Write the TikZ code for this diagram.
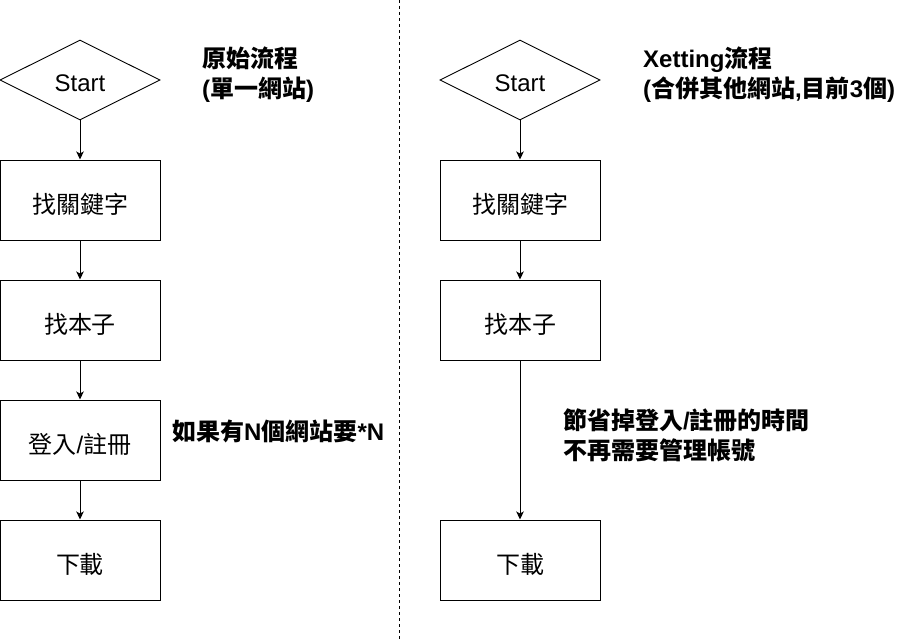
\documentclass[tikz,border=0pt]{standalone}
\usepackage{fontspec}
\setmainfont{Liberation Sans}
\newfontfamily\cjkfont{Noto Sans CJK TC}
\newcommand\cj[1]{{\cjkfont #1}}
\usetikzlibrary{shapes.geometric,arrows.meta}

\tikzset{
  every node/.style={font=\fontsize{24}{30}\selectfont, text=black},
  stepbox/.style={draw, line width=1pt, rectangle, minimum width=160pt,
                  minimum height=80pt, inner sep=0pt, text height=26pt, text depth=0pt},
  startbox/.style={draw, line width=0.9pt, diamond, aspect=2, minimum width=160pt,
                   minimum height=80pt, inner sep=0pt, text height=24pt, text depth=0pt},
  note/.style={anchor=west, align=left, inner sep=0pt,
               font=\fontsize{24}{30}\selectfont\bfseries},
  flow/.style={line width=1pt, -{Stealth[length=8pt,width=7.5pt,inset=2pt]}},
  divider/.style={line width=1pt, dash pattern=on 3pt off 3pt},
}

\begin{document}
\begin{tikzpicture}[x=1pt, y=-1pt]
  \useasboundingbox (0,0) rectangle (911,642);

  % dividing line between the two flows
  \coordinate (divtop) at (399.5,0);
  \coordinate (divbot) at (399.5,642);
  \draw[divider] (divtop) -- (divbot);

  % original flow (single site)
  \node[startbox] (ls) at (80,80) {Start};
  \node[stepbox] (l1) at (80,200) {\cj{找關鍵字}};
  \node[stepbox] (l2) at (80,320) {\cj{找本子}};
  \node[stepbox] (l3) at (80,440) {\cj{登入}/\cj{註冊}};
  \node[stepbox] (l4) at (80,560) {\cj{下載}};
  \draw[flow] (ls) -- (l1);
  \draw[flow] (l1) -- (l2);
  \draw[flow] (l2) -- (l3);
  \draw[flow] (l3) -- (l4);

  \node[note] (ltitle) at (202,75) {\cj{原始流程}\\(\cj{單一網站})};
  \node[note] (lnote) at (172,431) {\cj{如果有}N\cj{個網站要}*N};

  % Xetting flow (merged sites)
  \node[startbox] (rs) at (520,80) {Start};
  \node[stepbox] (r1) at (520,200) {\cj{找關鍵字}};
  \node[stepbox] (r2) at (520,320) {\cj{找本子}};
  \node[stepbox] (r4) at (520,560) {\cj{下載}};
  \draw[flow] (rs) -- (r1);
  \draw[flow] (r1) -- (r2);
  \draw[flow] (r2) -- (r4);

  \node[note] (rtitle) at (643,75) {Xetting\cj{流程}\\(\cj{合併其他網站},\cj{目前}3\cj{個})};
  \node[note] (rnote) at (563,435) {\cj{節省掉登入}/\cj{註冊的時間}\\\cj{不再需要管理帳號}};
\end{tikzpicture}
\end{document}
